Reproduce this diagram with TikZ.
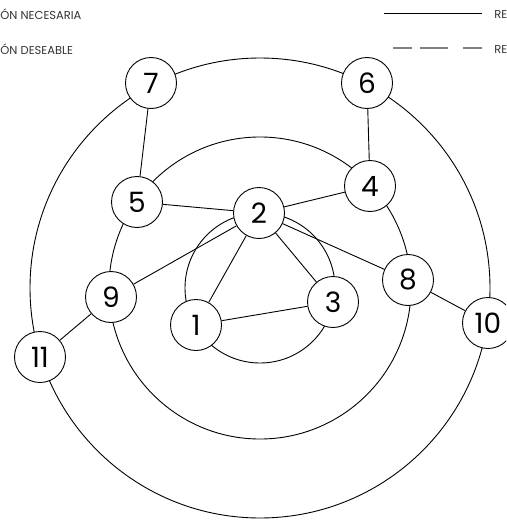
\documentclass[tikz,border=0pt]{standalone}
\usepackage{fontspec}
\setmainfont{Poppins}
\begin{document}
\begin{tikzpicture}[x=1pt,y=-1pt,line width=0.9pt,
  nd/.style={circle,draw,fill=white,minimum size=51pt,inner sep=0pt,font=\fontsize{28}{30}\selectfont},
  lg/.style={font=\fontsize{11.5}{13}\selectfont,inner sep=0pt,text=black!80},
  ring/.style={draw},
  edge/.style={draw}]
\useasboundingbox (0,0) rectangle (506,522);
\clip (0,0) rectangle (506,522);
\coordinate (c) at (260,288);
\draw[ring] (c) circle[radius=75pt];
\draw[ring] (c) circle[radius=151pt];
\draw[ring] (c) circle[radius=230pt];
\node[nd] (n7) at (151,83) {7};
\node[nd] (n6) at (367,83) {6};
\node[nd] (n5) at (137,202) {5};
\node[nd] (n4) at (370,186) {4};
\node[nd] (n2) at (259,213) {2};
\node[nd] (n9) at (111,297) {9};
\node[nd] (n1) at (196,325) {1};
\node[nd] (n3) at (333,302) {3};
\node[nd] (n8) at (408,280) {8};
\node[nd] (n10) at (488,323) {10};
\node[nd] (n11) at (40,357) {11};
\path[edge] (n7) -- (n5);
\path[edge] (n6) -- (n4);
\path[edge] (n5) -- (n2);
\path[edge] (n2) -- (n4);
\path[edge] (n2) -- (n9);
\path[edge] (n2) -- (n1);
\path[edge] (n2) -- (n3);
\path[edge] (n2) -- (n8);
\path[edge] (n1) -- (n3);
\path[edge] (n9) -- (n11);
\path[edge] (n8) -- (n10);
\node[lg,anchor=west] (t1) at (0,14) {ÓN NECESARIA};
\node[lg,anchor=west] (t2) at (0,49) {ÓN DESEABLE};
\coordinate (a1) at (384,13.5);
\coordinate (b1) at (482,13.5);
\draw (a1) -- (b1);
\coordinate (a2) at (393,48);
\coordinate (b2) at (482,48);
\draw[gray,line width=1.2pt,dash pattern=on 19pt off 8pt on 28pt off 15pt on 19pt off 20pt] (a2) -- (b2);
\node[lg,anchor=west] (r1) at (494,14) {RE};
\node[lg,anchor=west] (r2) at (494,49) {RE};
\end{tikzpicture}
\end{document}
